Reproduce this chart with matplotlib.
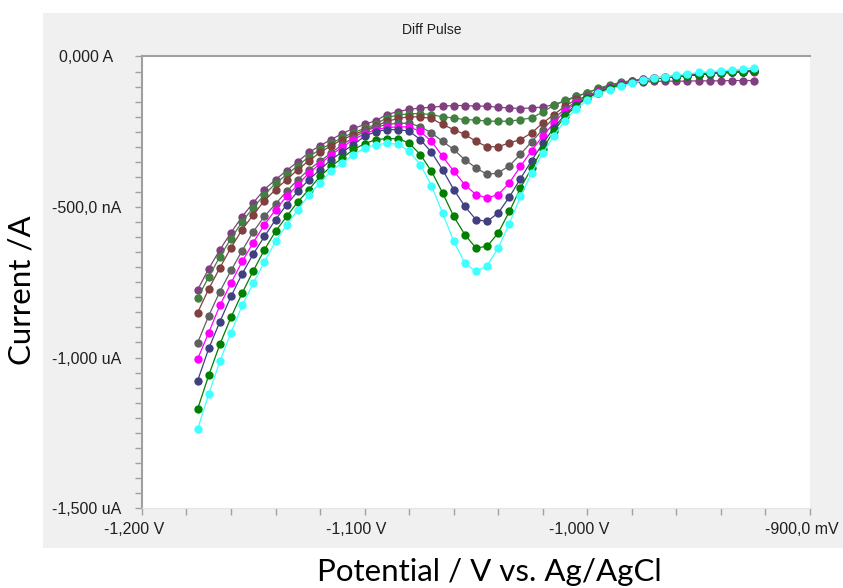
import matplotlib.pyplot as plt
from matplotlib.patches import Rectangle
from matplotlib.ticker import MultipleLocator
from matplotlib.transforms import ScaledTranslation

# potential in mV, current in nA
potential = [-1175, -1170, -1165, -1160, -1155, -1150, -1145, -1140, -1135, -1130,
             -1125, -1120, -1115, -1110, -1105, -1100, -1095, -1090, -1085, -1080,
             -1075, -1070, -1065, -1060, -1055, -1050, -1045, -1040, -1035, -1030,
             -1025, -1020, -1015, -1010, -1005, -1000, -995, -990, -985, -980,
             -975, -970, -965, -960, -955, -950, -945, -940, -935, -930, -925]

purple = [-775, -705, -642, -585, -532, -486, -442, -409, -379, -349,
          -319, -296, -276, -256, -239, -226, -213, -193, -183, -176,
          -171, -169, -165, -163, -163, -165, -165, -169, -171, -173,
          -171, -168, -160, -149, -133, -121, -107, -99, -90, -85,
          -85, -83, -82, -82, -82, -81, -81, -81, -80, -80, -80]

green_mid = [-802, -732, -665, -605, -549, -502, -459, -422, -392, -363,
             -333, -309, -289, -269, -253, -239, -226, -203, -195, -190,
             -190, -193, -201, -204, -210, -211, -215, -215, -215, -210,
             -204, -185, -162, -146, -132, -121, -105, -95, -86, -80,
             -75, -72, -68, -65, -62, -58, -55, -52, -50, -48, -47]

brown = [-851, -772, -702, -635, -575, -526, -479, -442, -409, -376,
         -346, -319, -296, -276, -260, -245, -231, -216, -206, -200,
         -201, -206, -226, -243, -259, -282, -300, -300, -287, -276,
         -254, -221, -193, -165, -143, -132, -113, -101, -91, -83,
         -78, -73, -70, -67, -63, -60, -57, -54, -52, -50, -48]

gray = [-951, -861, -781, -711, -645, -582, -531, -490, -448, -409,
        -376, -348, -320, -293, -270, -248, -235, -226, -222, -222,
        -233, -254, -282, -309, -343, -370, -392, -387, -363, -325,
        -283, -243, -204, -176, -149, -135, -115, -101, -91, -83,
        -76, -72, -68, -65, -62, -58, -55, -53, -51, -49, -48]

magenta = [-1005, -917, -827, -753, -681, -618, -559, -509, -465, -426,
           -387, -357, -326, -302, -276, -257, -243, -236, -234, -234,
           -249, -282, -332, -381, -426, -459, -470, -459, -420, -365,
           -313, -264, -221, -180, -156, -135, -117, -103, -93, -85,
           -78, -73, -70, -67, -63, -60, -57, -54, -53, -51, -50]

navy = [-1077, -970, -881, -797, -722, -656, -598, -542, -492, -448,
        -409, -376, -343, -317, -293, -265, -250, -243, -243, -248,
        -276, -318, -376, -442, -498, -542, -548, -520, -467, -406,
        -346, -289, -237, -193, -160, -137, -121, -105, -95, -86,
        -80, -75, -71, -68, -64, -61, -58, -55, -53, -51, -49]

green_dark = [-1171, -1059, -956, -866, -786, -712, -642, -581, -531, -483,
              -442, -398, -365, -337, -309, -290, -276, -273, -273, -288,
              -326, -381, -453, -531, -592, -636, -631, -586, -515, -437,
              -371, -306, -248, -199, -165, -137, -120, -105, -95, -86,
              -80, -75, -71, -68, -64, -61, -58, -55, -53, -51, -49]

cyan = [-1238, -1121, -1012, -917, -827, -753, -682, -614, -559, -509,
        -459, -420, -379, -354, -326, -304, -293, -289, -291, -315,
        -359, -429, -520, -614, -686, -714, -695, -636, -555, -465,
        -387, -322, -263, -213, -173, -146, -123, -111, -98, -89,
        -79, -72, -68, -63, -59, -53, -51, -47, -45, -42, -38]

series = [purple, green_mid, brown, gray, magenta, navy, green_dark, cyan]
colors = ['#804080', '#408040', '#804040', '#606060', '#ff00ff', '#404080', '#008000', '#40ffff']

x_ticks = [-1200, -1100, -1000, -900]
x_labels = ['-1,200 V', '-1,100 V', '-1,000 V', '-900,0 mV']
y_ticks = [-1500, -1000, -500, 0]
y_labels = ['-1,500 uA', '-1,000 uA', '-500,0 nA', '0,000 A']

plt.rcParams['font.family'] = ['Liberation Sans', 'DejaVu Sans']

fig = plt.figure(figsize=(8.43, 5.88), dpi=100)
fig.patches.append(Rectangle((0.051, 0.068), 0.949, 0.910, transform=fig.transFigure,
                             facecolor='#f0f0f0', edgecolor='none', zorder=-1))

ax = fig.add_axes([0.1684, 0.136, 0.7924, 0.768])
for vals, c in zip(series, colors):
    ax.plot(potential, vals, color=c, lw=0.9, marker='o', ms=6, mew=0)

ax.set_xlim(-1200, -900)
ax.set_ylim(-1500, 0)
ax.set_xticks(x_ticks)
ax.set_xticklabels(x_labels)
ax.set_yticks(y_ticks)
ax.set_yticklabels(y_labels)
ax.xaxis.set_minor_locator(MultipleLocator(20))
ax.yaxis.set_minor_locator(MultipleLocator(50))
ax.tick_params(which='both', direction='out', length=5, width=1, color='#a0a0a0',
               labelsize=11.5, labelcolor='#202020')
ax.tick_params(axis='y', pad=35)
ax.tick_params(axis='x', pad=5)
for lab in ax.get_yticklabels():
    lab.set_horizontalalignment('center')
for lab in ax.get_xticklabels():
    lab.set_transform(lab.get_transform() + ScaledTranslation(-0.08, 0, fig.dpi_scale_trans))

ax.spines['right'].set_visible(False)
ax.spines['left'].set_color('#a0a0a0')
ax.spines['top'].set_color('#a0a0a0')
ax.spines['left'].set_linewidth(1.5)
ax.spines['top'].set_linewidth(1.5)
ax.spines['bottom'].set_color('#e4e4e4')

fig.text(432 / 843, 1 - 30 / 588, 'Diff Pulse', ha='center', va='center', fontsize=10, color='#202020')
fig.text(489 / 843, 1 - 572 / 588, 'Potential / V vs. Ag/AgCl', ha='center', va='center',
         fontsize=22.5, family=['Lato', 'DejaVu Sans'], color='black')
fig.text(22 / 843, 1 - 290 / 588, 'Current /A', ha='center', va='center', rotation=90,
         fontsize=22.5, family=['Lato', 'DejaVu Sans'], color='black')

fig.savefig('out.png', dpi=100)
